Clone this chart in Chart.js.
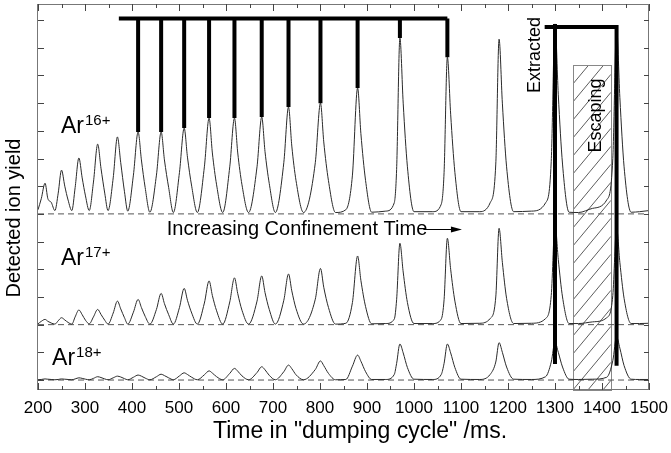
<!DOCTYPE html>
<html>
<head>
<meta charset="utf-8">
<script src="https://cdn.jsdelivr.net/npm/chart.js@4.4.0/dist/chart.umd.min.js"></script>
<style>
  html, body { margin: 0; padding: 0; background: #fff; }
  #wrap { width: 671px; height: 453px; }
</style>
</head>
<body>
<div id="wrap"><canvas id="ionChart" width="671" height="453"></canvas></div>
<script>
// sample times (ms), shared by the three charge states
const sampleTimes = [
  200,
  207, 215, 221, 228, 236,
  243, 250, 257, 264, 272,
  279, 287, 294, 301, 309,
  318, 327, 334, 342, 349,
  360, 369, 376, 384, 391,
  403, 413, 420, 428, 438,
  452, 462, 469, 478, 488,
  501, 511, 518, 527, 539,
  554, 564, 571, 580, 593,
  608, 618, 625, 634, 648,
  666, 676, 683, 692, 705,
  723, 733, 740, 749, 765,
  790, 801, 808, 818, 833,
  855, 869, 880, 887, 897, 910,
  940, 958, 963, 970, 977, 986, 1000,
  1040, 1058, 1064, 1071, 1078, 1087, 1100,
  1140, 1162, 1174, 1181, 1188, 1197, 1212,
  1250, 1280, 1292, 1300, 1307, 1316, 1330,
  1350, 1380, 1410, 1423, 1431, 1438, 1447, 1462,
  1480, 1500
];

// signal above each baseline, in y-tick units
const ar16Signal = [
  0.15,
  0.55, 1.11, 0.55, 0.42, 0.12,
  0.75, 1.58, 1.00, 0.50, 0.12,
  0.95, 2.02, 1.30, 0.65, 0.12,
  1.15, 2.52, 1.65, 0.75, 0.12,
  1.30, 2.78, 1.85, 0.80, 0.10,
  1.40, 2.96, 1.95, 0.95, 0.06,
  1.40, 2.96, 1.95, 0.95, 0.05,
  1.50, 3.10, 2.05, 1.00, 0.05,
  1.70, 3.46, 2.20, 1.05, 0.05,
  1.70, 3.46, 2.20, 1.05, 0.05,
  1.70, 3.50, 2.25, 1.10, 0.05,
  1.85, 3.86, 2.45, 1.20, 0.05,
  1.85, 4.00, 2.60, 1.20, 0.05,
  0.15, 1.40, 4.55, 2.90, 1.20, 0.06,
  0.10, 0.40, 1.60, 6.35, 4.00, 1.70, 0.08,
  0.08, 0.35, 1.50, 5.66, 3.60, 1.50, 0.08,
  0.08, 0.40, 1.80, 6.31, 4.00, 1.70, 0.08,
  0.10, 0.40, 1.90, 6.86, 4.30, 1.80, 0.06,
  0.05, 0.20, 0.50, 2.00, 6.75, 4.20, 1.70, 0.06,
  0.08, 0.12
];

const ar17Signal = [
  0.03,
  0.12, 0.19, 0.12, 0.06, 0.02,
  0.14, 0.25, 0.17, 0.08, 0.02,
  0.28, 0.53, 0.36, 0.16, 0.03,
  0.28, 0.55, 0.37, 0.16, 0.02,
  0.42, 0.85, 0.57, 0.25, 0.02,
  0.45, 0.91, 0.62, 0.30, 0.02,
  0.55, 1.13, 0.76, 0.36, 0.02,
  0.62, 1.31, 0.88, 0.42, 0.02,
  0.78, 1.58, 1.05, 0.50, 0.02,
  0.82, 1.69, 1.12, 0.52, 0.02,
  0.85, 1.76, 1.16, 0.55, 0.02,
  0.88, 1.83, 1.22, 0.58, 0.02,
  0.92, 2.03, 1.35, 0.62, 0.02,
  0.05, 0.80, 2.48, 1.60, 0.65, 0.03,
  0.04, 0.20, 0.90, 2.94, 1.90, 0.80, 0.04,
  0.04, 0.20, 0.90, 3.12, 2.00, 0.85, 0.04,
  0.05, 0.22, 1.00, 3.48, 2.25, 0.95, 0.04,
  0.05, 0.22, 1.05, 3.63, 2.35, 1.00, 0.04,
  0.04, 0.10, 0.25, 1.05, 3.49, 2.25, 0.95, 0.04,
  0.04, 0.05
];

const ar18Signal = [
  0.01,
  0.02, 0.04, 0.03, 0.02, 0.01,
  0.02, 0.04, 0.03, 0.02, 0.01,
  0.04, 0.08, 0.06, 0.03, 0.01,
  0.06, 0.12, 0.09, 0.04, 0.01,
  0.08, 0.14, 0.11, 0.05, 0.01,
  0.10, 0.18, 0.14, 0.07, 0.01,
  0.12, 0.21, 0.16, 0.08, 0.01,
  0.15, 0.26, 0.20, 0.10, 0.01,
  0.19, 0.33, 0.25, 0.12, 0.01,
  0.24, 0.42, 0.32, 0.15, 0.01,
  0.27, 0.48, 0.37, 0.17, 0.01,
  0.30, 0.54, 0.41, 0.19, 0.01,
  0.38, 0.69, 0.52, 0.24, 0.01,
  0.02, 0.50, 0.90, 0.68, 0.30, 0.02,
  0.02, 0.20, 0.60, 1.30, 0.98, 0.45, 0.03,
  0.02, 0.20, 0.60, 1.30, 0.98, 0.45, 0.03,
  0.02, 0.20, 0.65, 1.35, 1.00, 0.47, 0.03,
  0.02, 0.12, 0.65, 1.37, 1.00, 0.47, 0.03,
  0.02, 0.03, 0.10, 0.70, 1.56, 1.15, 0.52, 0.03,
  0.02, 0.02
];

// vertical stacking of the traces (baseline of each, in tick units)
const traceOffsets = { ar16: 6, ar17: 2, ar18: 0 };

const xTickLabels = [200, 300, 400, 500, 600, 700, 800, 900, 1000, 1100, 1200, 1300, 1400, 1500];
const xMinorTicks = [250, 350, 450, 550, 650, 750, 850, 950, 1050, 1150, 1250, 1350, 1450];
const yTickValues = [0, 1, 2, 3, 4, 5, 6, 7, 8, 9, 10, 11, 12, 13];

// bracket over the Ar16+ peaks used for confinement time
const markedPeaks = [413, 462, 511, 564, 618, 676, 733, 801, 880, 970, 1071];
const markerLevel = 13.06;
const markerStart = 372;

// "Extracted" bracket
const extractedPeaks = [1300, 1431];
const extractedTops = [12.86, 12.75];
const extractedBottoms = [0.58, 0.52];
const extractedStart = 1278;

// "Escaping" hatched window
const escapingRange = [1339, 1419];
const escapingTop = 11.36;

const FONT = '"Liberation Sans", Arial, Helvetica, sans-serif';

const toPoints = (sig, off) => sampleTimes.map((t, i) => ({ x: t, y: sig[i] + off }));

const peakValue = (t) => ar16Signal[sampleTimes.indexOf(t)] + traceOffsets.ar16;

const markerPoints = [
  { x: markerStart, y: markerLevel },
  { x: markedPeaks[markedPeaks.length - 1], y: markerLevel },
  { x: markedPeaks[markedPeaks.length - 1], y: null }
];
markedPeaks.forEach(t => {
  markerPoints.push({ x: t, y: markerLevel }, { x: t, y: peakValue(t) }, { x: t, y: null });
});

const extractedPoints = [
  { x: extractedStart, y: extractedTops[1] },
  { x: extractedPeaks[1], y: extractedTops[1] },
  { x: extractedPeaks[1], y: extractedBottoms[1] },
  { x: extractedPeaks[1], y: null },
  { x: extractedPeaks[0], y: extractedTops[0] },
  { x: extractedPeaks[0], y: extractedBottoms[0] }
];

const baseline = (off) => [{ x: 200, y: off }, { x: 1500, y: off }];

const traceStyle = {
  borderColor: '#2a2a2a', borderWidth: 1, pointRadius: 0,
  cubicInterpolationMode: 'monotone', fill: false
};
const dashStyle = {
  borderColor: '#555', borderWidth: 1, borderDash: [6, 4], pointRadius: 0, fill: false
};
const thickStyle = {
  borderColor: '#000', borderWidth: 4, pointRadius: 0, fill: false,
  spanGaps: false, borderCapStyle: 'butt', borderJoinStyle: 'miter'
};

// annotation text placed in data coordinates
const ionLabels = [
  { main: 'Ar', sup: '16+', x: 249, y: 8.92 },
  { main: 'Ar', sup: '17+', x: 249, y: 4.15 },
  { main: 'Ar', sup: '18+', x: 230, y: 0.54 }
];

const decor = {
  id: 'decor',
  beforeDatasetsDraw(chart) {
    const { ctx, chartArea } = chart;
    const xs = chart.scales.x, ys = chart.scales.y;
    const l = xs.getPixelForValue(escapingRange[0]);
    const r = xs.getPixelForValue(escapingRange[1]);
    const t = ys.getPixelForValue(escapingTop);
    const b = chartArea.bottom;
    ctx.save();
    ctx.beginPath();
    ctx.rect(l, t, r - l, b - t);
    ctx.clip();
    ctx.strokeStyle = '#333';
    ctx.lineWidth = 0.8;
    ctx.beginPath();
    const slope = 1.2;
    for (let k = t; k < b + (r - l) * slope; k += 18) {
      ctx.moveTo(l, k);
      ctx.lineTo(r, k - (r - l) * slope);
    }
    ctx.stroke();
    ctx.restore();
    ctx.save();
    ctx.strokeStyle = '#888';
    ctx.lineWidth = 1;
    ctx.strokeRect(Math.round(l) + 0.5, Math.round(t) + 0.5, Math.round(r - l), Math.round(b - t));
    ctx.restore();
  },
  afterDatasetsDraw(chart) {
    const { ctx, chartArea } = chart;
    const xs = chart.scales.x, ys = chart.scales.y;
    const { left, right, top, bottom } = chartArea;
    ctx.save();
    // frame
    ctx.strokeStyle = '#777';
    ctx.lineWidth = 1;
    ctx.strokeRect(left - 0.5, top + 0.5, right - left, bottom - top - 1);
    // inward ticks
    ctx.strokeStyle = '#444';
    ctx.beginPath();
    yTickValues.forEach(v => {
      const py = Math.round(ys.getPixelForValue(v)) + 0.5;
      ctx.moveTo(left, py); ctx.lineTo(left + 6, py);
      ctx.moveTo(right, py); ctx.lineTo(right - 5, py);
    });
    const xTick = (v, len) => {
      const px = Math.round(xs.getPixelForValue(v)) + 0.5;
      ctx.moveTo(px, bottom); ctx.lineTo(px, bottom - len);
      ctx.moveTo(px, top); ctx.lineTo(px, top + len);
    };
    xTickLabels.forEach(v => xTick(v, 7));
    xMinorTicks.forEach(v => xTick(v, 4));
    ctx.stroke();

    // ion labels
    ctx.fillStyle = '#000';
    ctx.textBaseline = 'alphabetic';
    ctx.textAlign = 'left';
    ionLabels.forEach(lb => {
      const px = xs.getPixelForValue(lb.x), py = ys.getPixelForValue(lb.y);
      ctx.font = '23px ' + FONT;
      ctx.fillText(lb.main, px, py);
      const w = ctx.measureText(lb.main).width;
      ctx.font = '15px ' + FONT;
      ctx.fillText(lb.sup, px + w + 1, py - 8);
    });

    // confinement arrow text
    const ty = ys.getPixelForValue(5.45);
    ctx.font = '20px ' + FONT;
    ctx.textBaseline = 'middle';
    ctx.fillText('Increasing Confinement Time', xs.getPixelForValue(474), ty);
    const a0 = xs.getPixelForValue(1020), a1 = xs.getPixelForValue(1102);
    ctx.strokeStyle = '#000';
    ctx.lineWidth = 1;
    ctx.beginPath();
    ctx.moveTo(a0, Math.round(ty) + 0.5); ctx.lineTo(a1 - 8, Math.round(ty) + 0.5);
    ctx.stroke();
    ctx.beginPath();
    ctx.moveTo(a1, Math.round(ty) + 0.5);
    ctx.lineTo(a1 - 11, Math.round(ty) - 2.5);
    ctx.lineTo(a1 - 11, Math.round(ty) + 3.5);
    ctx.closePath();
    ctx.fill();

    // rotated labels
    const vText = (txt, x, y, size) => {
      ctx.save();
      ctx.translate(xs.getPixelForValue(x), ys.getPixelForValue(y));
      ctx.rotate(-Math.PI / 2);
      ctx.font = size + 'px ' + FONT;
      ctx.textAlign = 'center';
      ctx.textBaseline = 'middle';
      ctx.fillText(txt, 0, 0);
      ctx.restore();
    };
    vText('Extracted', 1257, 11.74, 18);
    vText('Escaping', 1387, 9.55, 18);
    ctx.restore();
  },
  afterDraw(chart) {
    const { ctx } = chart;
    ctx.save();
    ctx.fillStyle = '#000';
    ctx.textAlign = 'center';
    ctx.textBaseline = 'middle';
    ctx.font = '23px ' + FONT;
    ctx.fillText('Time in "dumping cycle" /ms.', 360, 432);
    ctx.translate(14, 218);
    ctx.rotate(-Math.PI / 2);
    ctx.font = '20px ' + FONT;
    ctx.fillText('Detected ion yield', 0, 0);
    ctx.restore();
  }
};

Chart.defaults.font.family = FONT;

new Chart(document.getElementById('ionChart'), {
  type: 'line',
  data: {
    datasets: [
      Object.assign({ label: 'marker', data: markerPoints }, thickStyle),
      Object.assign({ label: 'extracted', data: extractedPoints }, thickStyle),
      Object.assign({ label: 'Ar16+', data: toPoints(ar16Signal, traceOffsets.ar16) }, traceStyle),
      Object.assign({ label: 'Ar17+', data: toPoints(ar17Signal, traceOffsets.ar17) }, traceStyle),
      Object.assign({ label: 'Ar18+', data: toPoints(ar18Signal, traceOffsets.ar18) }, traceStyle),
      Object.assign({ label: 'base16', data: baseline(traceOffsets.ar16) }, dashStyle),
      Object.assign({ label: 'base17', data: baseline(traceOffsets.ar17) }, dashStyle),
      Object.assign({ label: 'base18', data: baseline(traceOffsets.ar18) }, dashStyle)
    ]
  },
  options: {
    responsive: false,
    animation: false,
    layout: { padding: { top: 4, right: 22, left: 0, bottom: 0 }, autoPadding: false },
    plugins: { legend: { display: false }, tooltip: { enabled: false } },
    scales: {
      x: {
        type: 'linear', min: 200, max: 1500,
        afterBuildTicks: s => { s.ticks = xTickLabels.map(v => ({ value: v })); },
        afterFit: s => { s.height = 63; },
        ticks: {
          color: '#000', font: { size: 17 }, padding: 0, maxRotation: 0, autoSkip: false,
          callback: v => String(v)
        },
        grid: { display: false },
        border: { display: false }
      },
      y: {
        type: 'linear', min: -0.36, max: 13.58,
        afterFit: s => { s.width = 38; },
        ticks: { display: false },
        grid: { display: false },
        border: { display: false }
      }
    }
  },
  plugins: [decor]
});
</script>
</body>
</html>
